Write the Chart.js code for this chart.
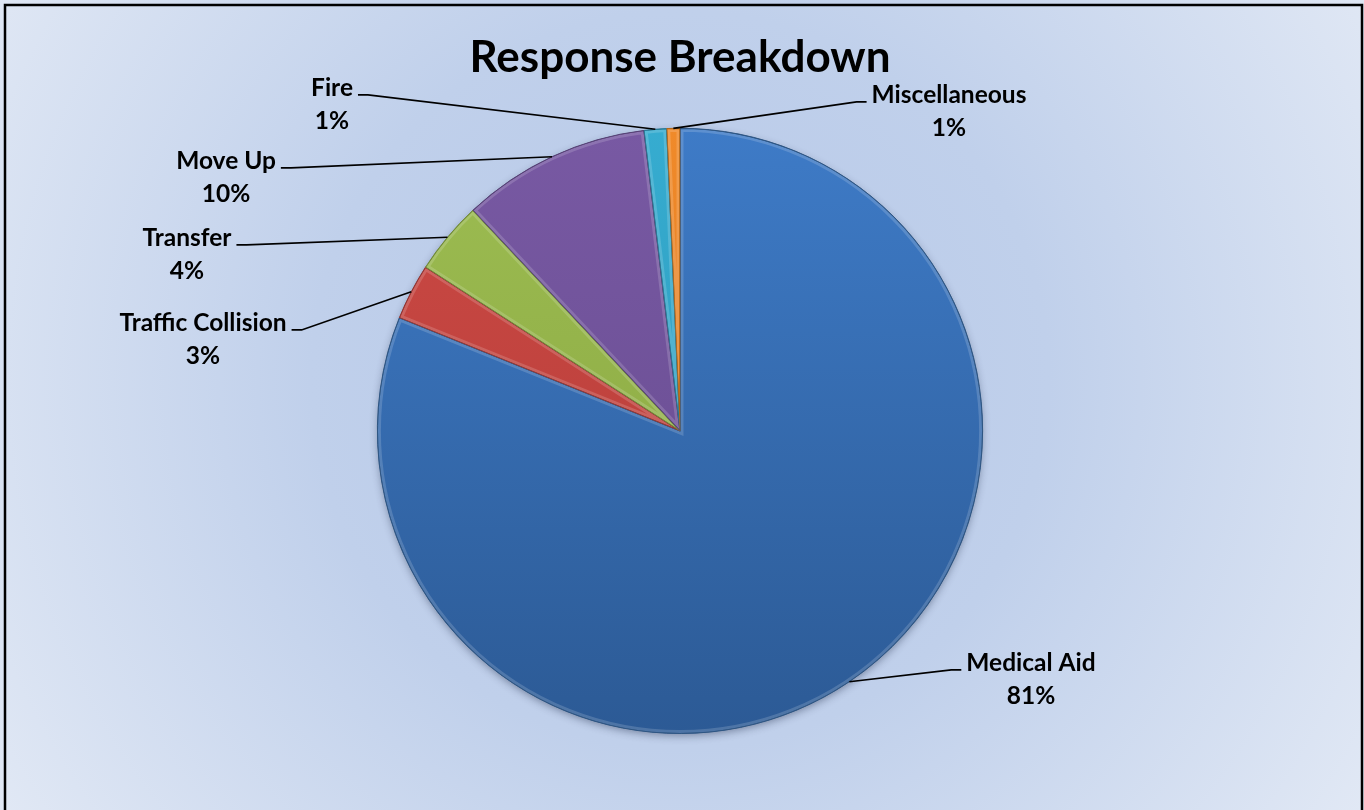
<!DOCTYPE html>
<html>
<head>
<meta charset="utf-8">
<script src="https://cdn.jsdelivr.net/npm/chart.js@4.4.1/dist/chart.umd.min.js"></script>
<style>
  html, body { margin: 0; padding: 0; background: #ffffff; }
  #wrap { width: 1364px; height: 810px; position: relative; }
</style>
</head>
<body>
<div id="wrap"><canvas id="c" width="1364" height="810"></canvas></div>
<script>
// ---- data ----
const chartTitle = 'Response Breakdown';
const categories = ['Medical Aid', 'Traffic Collision', 'Transfer', 'Move Up', 'Fire', 'Miscellaneous'];
const shares = [81.1, 3.0, 3.9, 10.1, 1.2, 0.7];

// ---- style ----
const topColors = ['#3e7bc7', '#cc4a45', '#9dbd52', '#7859a3', '#36acd0', '#f08a2a'];
const bottomColors = ['#2c5a95', '#b23a36', '#86a33e', '#654a8d', '#2a94b4', '#d9731a'];
const edgeColors = ['#27507f', '#8f2e2b', '#6c8632', '#4f3a70', '#1f7390', '#b0600f'];
// label text centre relative to pie centre (style only)
const labelOffsets = [
  {dx: 351, dy: 232}, {dx: -477, dy: -108}, {dx: -493, dy: -193},
  {dx: -454, dy: -270}, {dx: -348, dy: -343}, {dx: 269, dy: -336}
];
const LABEL_FONT = 'bold 24.5px Lato';
const LINE_GAP = 33;

const bgPlugin = {
  id: 'bg',
  beforeDraw(chart) {
    const {ctx, width, height} = chart;
    ctx.save();
    const g = ctx.createRadialGradient(680, 380, 0, 680, 380, 820);
    g.addColorStop(0, '#b6c8e8');
    g.addColorStop(0.45, '#c0d0eb');
    g.addColorStop(1, '#e2e9f5');
    ctx.fillStyle = g;
    ctx.fillRect(0, 0, width, height);
    ctx.restore();
  },
  beforeDatasetsDraw(chart) {
    const meta = chart.getDatasetMeta(0);
    if (!meta.data.length) return;
    const p = meta.data[0].getProps(['x', 'y', 'outerRadius'], true);
    const {ctx} = chart;
    ctx.save();
    ctx.shadowColor = 'rgba(20,30,60,0.45)';
    ctx.shadowBlur = 8;
    ctx.shadowOffsetY = 3;
    ctx.fillStyle = '#2c5a95';
    ctx.beginPath();
    ctx.arc(p.x, p.y, p.outerRadius - 1, 0, Math.PI * 2);
    ctx.fill();
    ctx.restore();
  },
  afterDraw(chart) {
    const {ctx} = chart;
    ctx.save();
    ctx.strokeStyle = '#000';
    ctx.lineWidth = 2.5;
    ctx.strokeRect(5, 5, 1357, 820);
    ctx.restore();
  }
};

const labelPlugin = {
  id: 'leaderLabels',
  afterDatasetsDraw(chart) {
    const {ctx} = chart;
    const meta = chart.getDatasetMeta(0);
    const data = chart.data.datasets[0].data;
    const total = data.reduce((a, b) => a + b, 0);
    // bevel highlight on each slice
    meta.data.forEach((arc, i) => {
      const p = arc.getProps(['x', 'y', 'startAngle', 'endAngle', 'outerRadius'], true);
      ctx.save();
      ctx.beginPath();
      ctx.moveTo(p.x, p.y);
      ctx.arc(p.x, p.y, p.outerRadius, p.startAngle, p.endAngle);
      ctx.closePath();
      ctx.clip();
      ctx.lineWidth = 7;
      ctx.strokeStyle = 'rgba(255,255,255,0.16)';
      ctx.stroke();
      ctx.lineWidth = 1.2;
      ctx.strokeStyle = edgeColors[i];
      ctx.stroke();
      ctx.restore();
    });
    ctx.save();
    ctx.font = LABEL_FONT;
    ctx.fillStyle = '#000';
    ctx.strokeStyle = '#000';
    ctx.lineWidth = 1.6;
    ctx.textAlign = 'center';
    ctx.textBaseline = 'middle';
    meta.data.forEach((arc, i) => {
      const p = arc.getProps(['x', 'y', 'startAngle', 'endAngle', 'outerRadius'], true);
      const mid = (p.startAngle + p.endAngle) / 2;
      const ax = p.x + Math.cos(mid) * p.outerRadius;
      const ay = p.y + Math.sin(mid) * p.outerRadius;
      const tx = p.x + labelOffsets[i].dx;
      const ty = p.y + labelOffsets[i].dy;
      const name = chart.data.labels[i];
      const pct = Math.round(data[i] / total * 100) + '%';
      const w = ctx.measureText(name).width;
      const right = ax > tx;
      const lx = right ? tx + w / 2 + 5 : tx - w / 2 - 5;
      const ly = ty + 7;
      const ex = right ? lx + 10 : lx - 10;
      ctx.beginPath();
      ctx.moveTo(lx, ly);
      ctx.lineTo(ex, ly);
      ctx.lineTo(ax, ay);
      ctx.stroke();
      ctx.fillText(name, tx, ty);
      ctx.fillText(pct, tx, ty + LINE_GAP);
    });
    ctx.restore();
  }
};

function sliceFill(context) {
  const i = context.dataIndex;
  const chart = context.chart;
  const area = chart.chartArea;
  if (!area) return topColors[i];
  const g = chart.ctx.createLinearGradient(0, area.top, 0, area.bottom);
  g.addColorStop(0, topColors[i]);
  g.addColorStop(1, bottomColors[i]);
  return g;
}

new Chart(document.getElementById('c'), {
  type: 'pie',
  data: {
    labels: categories,
    datasets: [{
      data: shares,
      backgroundColor: sliceFill,
      borderColor: edgeColors,
      borderWidth: 1,
      hoverOffset: 0,
      offset: 0
    }]
  },
  options: {
    responsive: false,
    animation: false,
    events: [],
    layout: { padding: { top: 0, bottom: 76, left: 0, right: 4 } },
    plugins: {
      legend: { display: false },
      tooltip: { enabled: false },
      title: {
        display: true,
        text: chartTitle,
        color: '#000',
        font: { family: 'Lato', size: 44, weight: 'bold', lineHeight: 1.2 },
        padding: { top: 31, bottom: 44 }
      }
    }
  },
  plugins: [bgPlugin, labelPlugin]
});
</script>
</body>
</html>
